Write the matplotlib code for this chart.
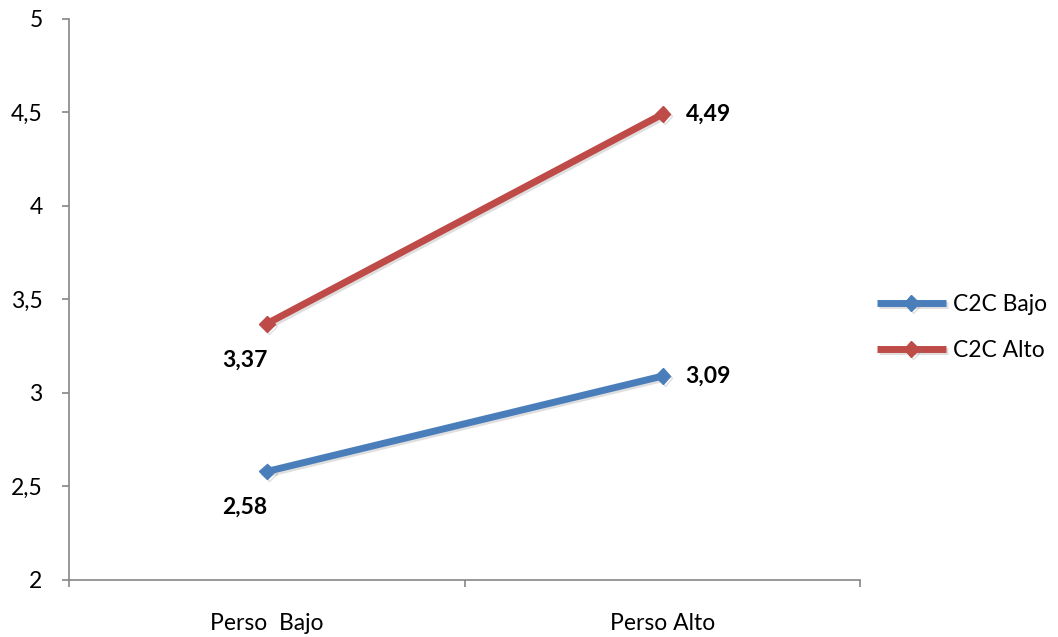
import matplotlib
matplotlib.use('Agg')
import matplotlib.pyplot as plt
import matplotlib.patheffects as pe

categories = ["Perso  Bajo", "Perso Alto"]
c2c_bajo = [2.58, 3.09]
c2c_alto = [3.37, 4.49]
series_names = ["C2C Bajo", "C2C Alto"]
colors = ["#4A7EBB", "#BE4B48"]

plt.rcParams['font.family'] = ['Lato', 'DejaVu Sans']

fig = plt.figure(figsize=(10.58, 6.37), dpi=100)
ax = fig.add_axes([0.0652, 0.0895, 0.748, 0.881])

x = list(range(len(categories)))
shadow = [pe.SimpleLineShadow(offset=(1.5, -1.5), alpha=0.25, shadow_color='gray'), pe.Normal()]

for vals, name, col in zip([c2c_bajo, c2c_alto], series_names, colors):
    ax.plot(x, vals, color=col, lw=5, marker='D', markersize=8, label=name,
            solid_capstyle='butt', path_effects=shadow)
    # left point label below-left, right point label to the right
    ax.annotate(f"{vals[0]:.2f}".replace('.', ','), (x[0], vals[0]), xytext=(-16, -26),
                textcoords='offset points', ha='center', va='center',
                fontsize=16.5, fontweight='bold')
    ax.annotate(f"{vals[1]:.2f}".replace('.', ','), (x[1], vals[1]), xytext=(33, 0),
                textcoords='offset points', ha='center', va='center',
                fontsize=16.5, fontweight='bold')

ax.set_xlim(-0.5, 1.5)
ax.set_ylim(2, 5)
yt = [2, 2.5, 3, 3.5, 4, 4.5, 5]
ax.set_yticks(yt)
ax.set_yticklabels([f"{v:g}".replace('.', ',') for v in yt], fontsize=16.5)
ax.set_xticks([-0.5, 0.5, 1.5])
ax.set_xticklabels([])
ax.set_xticks(x, minor=True)
ax.set_xticklabels(categories, minor=True, fontsize=16.5)
ax.tick_params(axis='x', which='minor', length=0, pad=24)
ax.tick_params(axis='both', which='major', length=5, color='#868686', width=1.2)
ax.tick_params(axis='y', pad=14)

for s in ['top', 'right']:
    ax.spines[s].set_visible(False)
for s in ['left', 'bottom']:
    ax.spines[s].set_color('#868686')
    ax.spines[s].set_linewidth(1.2)

ax.legend(loc='center left', bbox_to_anchor=(0.995, 0.45), frameon=False, fontsize=16.5,
          handlelength=3.0, handletextpad=0.3, labelspacing=1.1)

fig.savefig('out.png', dpi=100)
